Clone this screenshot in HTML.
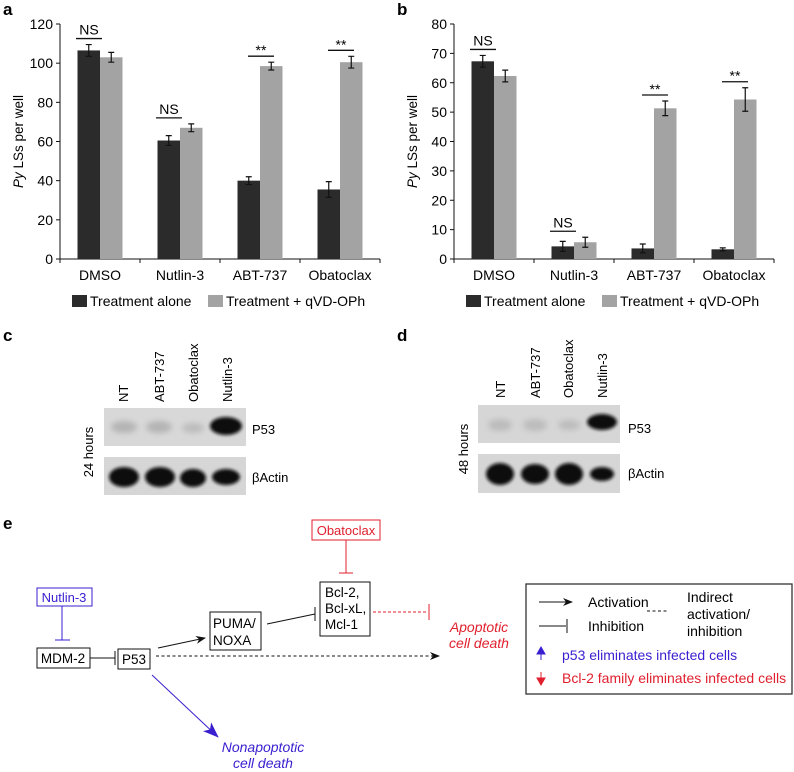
<!DOCTYPE html>
<html><head><meta charset="utf-8"><style>
body{margin:0;background:#fff;width:794px;height:772px;overflow:hidden}
svg{display:block;font-family:"Liberation Sans",Arial,sans-serif}
</style></head><body>
<svg id="fig" width="794" height="772" viewBox="0 0 794 772">
<defs>
<filter id="bl" x="-50%" y="-50%" width="200%" height="200%"><feGaussianBlur stdDeviation="3"/></filter>
<filter id="bl2" x="-50%" y="-50%" width="200%" height="200%"><feGaussianBlur stdDeviation="1.6"/></filter>
<marker id="ah" markerWidth="10" markerHeight="8" refX="9" refY="4" orient="auto" markerUnits="userSpaceOnUse"><path d="M0,0 L10,4 L0,8 L3,4z" fill="#111"/></marker>
<marker id="ahb" markerWidth="16" markerHeight="12" refX="15" refY="6" orient="auto" markerUnits="userSpaceOnUse"><path d="M0,0 L16,6 L0,12 L4,6z" fill="#3a1fd0"/></marker>
</defs>
<g id="charts"></g>

<!-- Blots c -->
<g>
<text x="3" y="341" font-size="17" font-weight="bold">c</text>
<g font-size="13">
<text transform="translate(128,402) rotate(-90)">NT</text>
<text transform="translate(164,402) rotate(-90)">ABT-737</text>
<text transform="translate(198,402) rotate(-90)">Obatoclax</text>
<text transform="translate(232,402) rotate(-90)">Nutlin-3</text>
<text transform="translate(93,452) rotate(-90)" text-anchor="middle">24 hours</text>
<text x="252" y="434">P53</text>
<text x="252" y="482">βActin</text>
</g>
<rect x="104" y="408" width="142" height="38" fill="#d8d8d8"/>
<g filter="url(#bl)" fill="#b4b4b4"><ellipse cx="124" cy="427" rx="13" ry="6"/><ellipse cx="159" cy="427" rx="13" ry="6"/><ellipse cx="193" cy="428" rx="11" ry="5" fill="#bcbcbc"/></g>
<ellipse cx="226" cy="426" rx="16" ry="9" fill="#111" filter="url(#bl2)"/>
<rect x="104" y="457" width="142" height="38" fill="#d6d6d6"/>
<g filter="url(#bl2)" fill="#0c0c0c"><ellipse cx="124" cy="477" rx="15" ry="10"/><ellipse cx="160" cy="477" rx="15" ry="10"/><ellipse cx="193" cy="478" rx="13" ry="9"/><ellipse cx="226" cy="477" rx="14" ry="8"/></g>
</g>

<!-- Blots d -->
<g>
<text x="397" y="341" font-size="17" font-weight="bold">d</text>
<g font-size="13">
<text transform="translate(505,398) rotate(-90)">NT</text>
<text transform="translate(540,398) rotate(-90)">ABT-737</text>
<text transform="translate(573,398) rotate(-90)">Obatoclax</text>
<text transform="translate(607,398) rotate(-90)">Nutlin-3</text>
<text transform="translate(468,449) rotate(-90)" text-anchor="middle">48 hours</text>
<text x="628" y="433">P53</text>
<text x="628" y="478">βActin</text>
</g>
<rect x="478" y="405" width="142" height="38" fill="#d6d6d6"/>
<g filter="url(#bl)" fill="#bcbcbc"><ellipse cx="500" cy="425" rx="12" ry="6"/><ellipse cx="535" cy="425" rx="12" ry="6"/><ellipse cx="569" cy="425" rx="11" ry="5"/></g>
<ellipse cx="602" cy="422" rx="15" ry="8" fill="#111" filter="url(#bl2)"/>
<rect x="478" y="454" width="142" height="39" fill="#d6d6d6"/>
<g filter="url(#bl2)" fill="#0c0c0c"><ellipse cx="500" cy="474" rx="14" ry="11"/><ellipse cx="535" cy="474" rx="14" ry="10"/><ellipse cx="569" cy="474" rx="14" ry="11"/><ellipse cx="602" cy="474" rx="12" ry="7"/></g>
</g>

<!-- Diagram e -->
<g font-size="13.5">
<text x="3" y="529" font-size="17" font-weight="bold">e</text>
<rect x="312" y="520" width="68" height="20" fill="none" stroke="#e0202e"/>
<text x="346" y="535" fill="#e0202e" text-anchor="middle" font-size="13">Obatoclax</text>
<path d="M346,540V573M339,573H353" stroke="#e0202e" fill="none"/>
<rect x="37" y="588" width="55" height="18" fill="none" stroke="#3a1fd0"/>
<text x="64" y="602" fill="#3a1fd0" text-anchor="middle" font-size="13">Nutlin-3</text>
<path d="M62,606V640M55,640H70" stroke="#3a1fd0" fill="none"/>
<rect x="37" y="648" width="53" height="20" fill="none" stroke="#111"/>
<text x="63" y="663" text-anchor="middle">MDM-2</text>
<path d="M90,658H115M115,651V665" stroke="#111" fill="none"/>
<rect x="118" y="649" width="32" height="20" fill="none" stroke="#111"/>
<text x="134" y="664" text-anchor="middle">P53</text>
<line x1="158" y1="648" x2="205" y2="638" stroke="#111" marker-end="url(#ah)"/>
<rect x="210" y="612" width="51" height="38" fill="none" stroke="#111"/>
<text x="213" y="628">PUMA/</text><text x="213" y="645">NOXA</text>
<path d="M267,624L315,614M315,607V621" stroke="#111" fill="none"/>
<rect x="320" y="582" width="50" height="54" fill="none" stroke="#111"/>
<text x="325" y="597">Bcl-2,</text><text x="325" y="613">Bcl-xL,</text><text x="325" y="629">Mcl-1</text>
<path d="M373,612H428" stroke="#e0202e" stroke-dasharray="3,2" fill="none"/>
<path d="M429,604V620" stroke="#e0202e" fill="none"/>
<line x1="156" y1="656" x2="439" y2="656" stroke="#111" stroke-dasharray="3,2.5" marker-end="url(#ah)"/>
<line x1="152" y1="675" x2="218" y2="737" stroke="#3a1fd0" marker-end="url(#ahb)"/>
<text x="263" y="752" fill="#3a1fd0" font-style="italic" text-anchor="middle" font-size="14">Nonapoptotic</text>
<text x="263" y="768" fill="#3a1fd0" font-style="italic" text-anchor="middle" font-size="14">cell death</text>
<text x="479" y="632" fill="#e0202e" font-style="italic" text-anchor="middle" font-size="14">Apoptotic</text>
<text x="479" y="648" fill="#e0202e" font-style="italic" text-anchor="middle" font-size="14">cell death</text>
<g font-size="14">
<rect x="526" y="584" width="266" height="110" fill="none" stroke="#333" stroke-width="1.3"/>
<line x1="539" y1="602" x2="572" y2="602" stroke="#111" marker-end="url(#ah)"/>
<text x="588" y="607">Activation</text>
<path d="M539,626H566M567,619V633" stroke="#111" fill="none"/>
<text x="588" y="631">Inhibition</text>
<line x1="647" y1="611" x2="667" y2="611" stroke="#111" stroke-dasharray="3,2.5"/>
<text x="687" y="602">Indirect</text><text x="687" y="619">activation/</text><text x="687" y="636">inhibition</text>
<path d="M541,660V650M537,654L541,647L545,654z" stroke="#3a1fd0" fill="#3a1fd0"/>
<text x="562" y="660" fill="#3a1fd0">p53 eliminates infected cells</text>
<path d="M541,672V682M537,678L541,685L545,678z" stroke="#e0202e" fill="#e0202e"/>
<text x="562" y="683" fill="#e0202e">Bcl-2 family eliminates infected cells</text>
</g>
</g>
</svg>
<script>
const categories = ["DMSO", "Nutlin-3", "ABT-737", "Obatoclax"];
const aAlone = [106.5, 60.5, 40, 35.5];
const aAloneErr = [3, 2.5, 2, 4];
const aQvd = [103, 67, 98.5, 100.5];
const aQvdErr = [2.5, 2, 2, 3];
const aTicks = [0, 20, 40, 60, 80, 100, 120];
const aSig = ["NS", "NS", "**", "**"];
const bAlone = [67.3, 4.3, 3.6, 3.3];
const bAloneErr = [2, 1.7, 1.5, 0.5];
const bQvd = [62.3, 5.7, 51.3, 54.3];
const bQvdErr = [2, 1.7, 2.5, 4];
const bTicks = [0, 10, 20, 30, 40, 50, 60, 70, 80];
const bSig = ["NS", "NS", "**", "**"];
const legendLabels = ["Treatment alone", "Treatment + qVD-OPh"];

const NS = "http://www.w3.org/2000/svg";
const root = document.getElementById("charts");
function mk(tag, attrs, parent, txt){
  const e = document.createElementNS(NS, tag);
  for (const k in attrs) e.setAttribute(k, attrs[k]);
  if (txt !== undefined) e.textContent = txt;
  parent.appendChild(e);
  return e;
}
function chart(ox, label, alone, aErr, qvd, qErr, ticks, sig){
  const g = mk("g", {}, root);
  
  
  const x0 = ox + 60, x1 = ox + 380, yB = 259, yT = 24;
  const maxV = ticks[ticks.length - 1];
  const ys = v => yB - (v / maxV) * (yB - yT);
  const gw = (x1 - x0) / categories.length;
  const pl = mk("text", {x: ox + 3, y: 15, "font-size": 17, "font-weight": "bold"}, g, label);
  
  
  mk("line", {x1: x0, y1: yT, x2: x0, y2: yB, stroke: "#111"}, g);
  mk("line", {x1: x0, y1: yB, x2: x1, y2: yB, stroke: "#111"}, g);
  ticks.forEach(t => {
    mk("line", {x1: x0 - 4, y1: ys(t), x2: x0, y2: ys(t), stroke: "#111"}, g);
    const tl = mk("text", {x: x0 - 7, y: ys(t) + 5, "font-size": 14, "text-anchor": "end"}, g, t);
    
    
  });
  const yl = mk("text", {transform: `translate(${ox + 23},${(yT + yB) / 2}) rotate(-90)`, "font-size": 13.5, "text-anchor": "middle"}, g);
  
  
  mk("tspan", {"font-style": "italic"}, yl, "Py");
  mk("tspan", {}, yl, " LSs per well");
  categories.forEach((c, i) => {
    const gx = x0 + i * gw;
    mk("line", {x1: gx + gw, y1: yB, x2: gx + gw, y2: yB + 4, stroke: "#111"}, g);
    mk("line", {x1: gx, y1: yB, x2: gx, y2: yB + 4, stroke: "#111"}, g);
    const cl = mk("text", {x: gx + gw / 2, y: yB + 21, "font-size": 14, "text-anchor": "middle"}, g, c);
    
    
    const cx = gx + gw / 2, bw = 22.5;
    [[alone[i], aErr[i], cx - bw, "#2b2b2b", "alone"], [qvd[i], qErr[i], cx, "#a3a3a3", "qvd"]].forEach(([v, e, bx, col, s]) => {
      const r = mk("rect", {x: bx, y: ys(v), width: bw, height: yB - ys(v), fill: col}, g);
      
      
      const ex = bx + bw / 2;
      mk("path", {d: `M${ex},${ys(v + e)}V${ys(v - e)}M${ex - 3},${ys(v + e)}H${ex + 3}M${ex - 3},${ys(v - e)}H${ex + 3}`, stroke: "#111", fill: "none", "stroke-width": 1.2}, g);
    });
    const top = Math.max(alone[i] + aErr[i], qvd[i] + qErr[i]);
    const sy = ys(top) - 6;
    const sx = sig[i] === "**" ? cx + 1 : cx - 11;
    mk("line", {x1: sx - 13, y1: sy, x2: sx + 13, y2: sy, stroke: "#111", "stroke-width": 1.3}, g);
    const st = mk("text", {x: sx, y: sig[i] === "**" ? sy - 1 : sy - 4, "font-size": 14, "text-anchor": "middle"}, g, sig[i]);
    
    
  });
  const lg = mk("g", {}, g);
  
  
  mk("rect", {x: ox + 72, y: 295, width: 15, height: 12, fill: "#2b2b2b"}, lg);
  mk("text", {x: ox + 90, y: 306, "font-size": 14}, lg, legendLabels[0]);
  mk("rect", {x: ox + 208, y: 295, width: 15, height: 12, fill: "#a3a3a3"}, lg);
  mk("text", {x: ox + 226, y: 306, "font-size": 14}, lg, legendLabels[1]);
}
chart(0, "a", aAlone, aAloneErr, aQvd, aQvdErr, aTicks, aSig);
chart(394, "b", bAlone, bAloneErr, bQvd, bQvdErr, bTicks, bSig);
</script>
</body></html>
